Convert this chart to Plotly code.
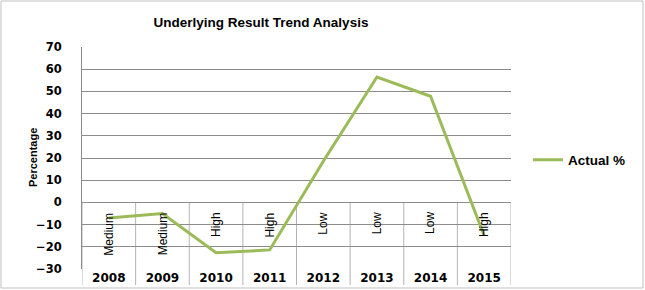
import plotly.graph_objects as go

# ---- data ----
years = ["2008", "2009", "2010", "2011", "2012", "2013", "2014", "2015"]
levels = ["Medium", "Medium", "High", "High", "Low", "Low", "Low", "High"]
actual_pct = [-7, -5, -22.7, -21.4, 18.5, 56.5, 47.8, -15]
y_ticks = [-30, -20, -10, 0, 10, 20, 30, 40, 50, 60, 70]

W, H = 645, 290
L, R, T, B = 82, 134, 47, 21
PW, PH = W - L - R, H - T - B

def px_x(p):
    return (p - L) / PW

def px_y(p):
    return (H - B - p) / PH

GRID = "#8c8c8c"
SEP = "#b4b4b4"
GREEN = "#9BBB59"

x_idx = list(range(len(years)))

fig = go.Figure()
fig.add_trace(go.Scatter(
    x=x_idx, y=actual_pct, mode="lines", name="Actual %",
    line=dict(color=GREEN, width=3),
))

shapes = []
for i in range(len(years) + 1):
    b = i - 0.5
    shapes.append(dict(type="line", xref="x", yref="y", x0=b, x1=b, y0=0, y1=y_ticks[0],
                       line=dict(color=SEP, width=1), layer="below"))
    shapes.append(dict(type="line", xref="x", yref="paper", x0=b, x1=b, y0=0, y1=px_y(285),
                       line=dict(color=SEP, width=1), layer="below"))
# outer chart border
shapes.append(dict(type="rect", xref="paper", yref="paper",
                   x0=px_x(1), x1=px_x(643), y0=px_y(288), y1=px_y(1),
                   line=dict(color="#bfbfbf", width=1), layer="below"))

annotations = []
for i, lv in enumerate(levels):
    annotations.append(dict(
        x=i, y=0, xref="x", yref="y", text=lv, showarrow=False,
        textangle=-90, xanchor="center", yanchor="top", yshift=-8,
        font=dict(family="Liberation Sans", size=12, color="black"),
    ))
# y-axis title
annotations.append(dict(
    x=px_x(33), y=px_y(158), xref="paper", yref="paper", text="Percentage",
    showarrow=False, textangle=-90, xanchor="center", yanchor="middle",
    font=dict(family="Liberation Sans", size=11, color="black", weight="bold"),
))

fig.update_layout(
    width=W, height=H,
    margin=dict(l=L, r=R, t=T, b=B, autoexpand=False),
    paper_bgcolor="white", plot_bgcolor="white",
    title=dict(text="Underlying Result Trend Analysis", xref="container", yref="container",
               x=261 / W, y=1 - 22 / H, xanchor="center", yanchor="middle",
               font=dict(family="Liberation Sans", size=13.5, color="black", weight="bold")),
    xaxis=dict(range=[-0.5, len(years) - 0.5], tickmode="array", tickvals=x_idx, ticktext=years,
               showgrid=False, zeroline=False, showline=False, ticks="",
               tickfont=dict(family="DejaVu Sans", size=12, color="black", weight="bold"),
               automargin=False),
    yaxis=dict(range=[y_ticks[0], y_ticks[-1]], tickmode="array", tickvals=y_ticks,
               showgrid=True, gridcolor=GRID, gridwidth=1, zeroline=False,
               showline=True, linecolor=GRID, linewidth=1,
               ticks="outside", ticklen=17, tickcolor="rgba(0,0,0,0)",
               tickfont=dict(family="DejaVu Sans", size=11.5, color="black", weight="bold"),
               automargin=False),
    showlegend=True,
    legend=dict(x=px_x(528), y=px_y(160), xanchor="left", yanchor="middle",
                font=dict(family="Liberation Sans", size=13.5, color="black", weight="bold"),
                bgcolor="rgba(0,0,0,0)"),
    shapes=shapes,
    annotations=annotations,
)

fig.write_html("out.html")
